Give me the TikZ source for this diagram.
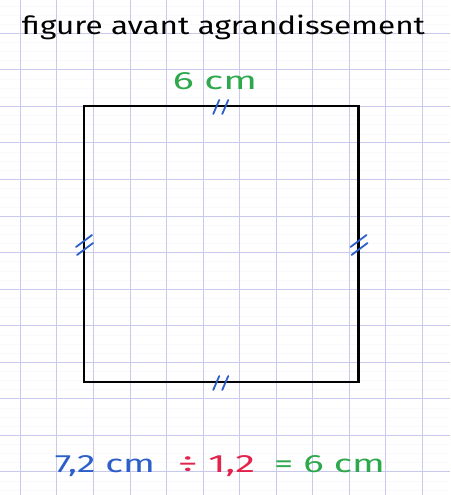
\documentclass[tikz,border=0pt]{standalone}
\usepackage{graphicx}
\usepackage{fontspec}
\setmainfont{Fira Sans}
\usetikzlibrary{calc}

\definecolor{vert}{HTML}{2EA84C}
\definecolor{bleu}{HTML}{2C5FC9}
\definecolor{rouge}{HTML}{E3234B}
\definecolor{quadrillage}{HTML}{C9C9EE}

% texte etire a la largeur voulue
\newcommand{\manuscrit}[2]{\resizebox{#1}{\height}{#2}}

\tikzset{
	grille/.style = {draw = quadrillage, line width = 0.8},
	souligne/.style = {draw = quadrillage!12, line width = 0.4},
	codage/.style = {draw = bleu, line width = 1.8, line cap = round},
	ecriture/.style = {font = \fontsize{25}{28}\selectfont, inner sep = 0, anchor = base}
}

\begin{document}
\begin{tikzpicture}[x = 1pt, y = -1pt]
		\def\pas{36.55};
		\def\xo{20.3};
		\def\yo{33.2};
		
		\useasboundingbox (0,0) rectangle (450,495);
		\fill [white] (0,0) rectangle (450,495);
		
		%quadrillage
		\foreach \j in {-1,...,12} {
			\foreach \k in {1,2,3}
				\draw [souligne] (0,{\yo + \j*\pas + \k*\pas/4}) -- (450,{\yo + \j*\pas + \k*\pas/4});
		}
		\foreach \i in {0,...,11}
			\draw [grille] ({\xo + \i*\pas},0) -- ({\xo + \i*\pas},495);
		\foreach \j in {0,...,12}
			\draw [grille] (0,{\yo + \j*\pas}) -- (450,{\yo + \j*\pas});
		
		%carre
		\coordinate (A) at (84,106);
		\coordinate (B) at (358.5,106);
		\coordinate (C) at (358.5,382);
		\coordinate (D) at (84,382);
		
		\draw [line width = 2.2, line join = miter] (A) -- (B) -- (C) -- (D) -- cycle;
		
		%codage des cotes
		\coordinate (mAB) at ($ (A)!0.5!(B) $);
		\coordinate (mBC) at ($ (B)!0.5!(C) $);
		\coordinate (mCD) at ($ (C)!0.5!(D) $);
		\coordinate (mDA) at ($ (D)!0.5!(A) $);
		
		\foreach \m in {mAB, mCD} {
			\draw [codage] ($ (\m) + (-8,8) $) -- ++(6,-14);
			\draw [codage] ($ (\m) + (1,8) $) -- ++(6,-14);
		}
		\foreach \m in {mBC, mDA} {
			\draw [codage] ($ (\m) + (-8,3) $) -- ++(16,-12);
			\draw [codage] ($ (\m) + (-7,11) $) -- ++(16,-12);
		}
		
		%textes
		\node [ecriture] (titre) at (223.5,35) {\manuscrit{403pt}{figure avant agrandissement}};
		\node [ecriture, text = vert] (cote) at (215,90) {\manuscrit{84pt}{6 cm}};
		
		\node [ecriture, text = bleu] (longueur) at (105,472) {\manuscrit{100pt}{7,2 cm}};
		\node [ecriture, text = rouge] (coef) at (216.5,472) {\manuscrit{77pt}{÷ 1,2}};
		\node [ecriture, text = vert] (resultat) at (329.5,472) {\manuscrit{111pt}{= 6 cm}};
	\end{tikzpicture}
\end{document}
